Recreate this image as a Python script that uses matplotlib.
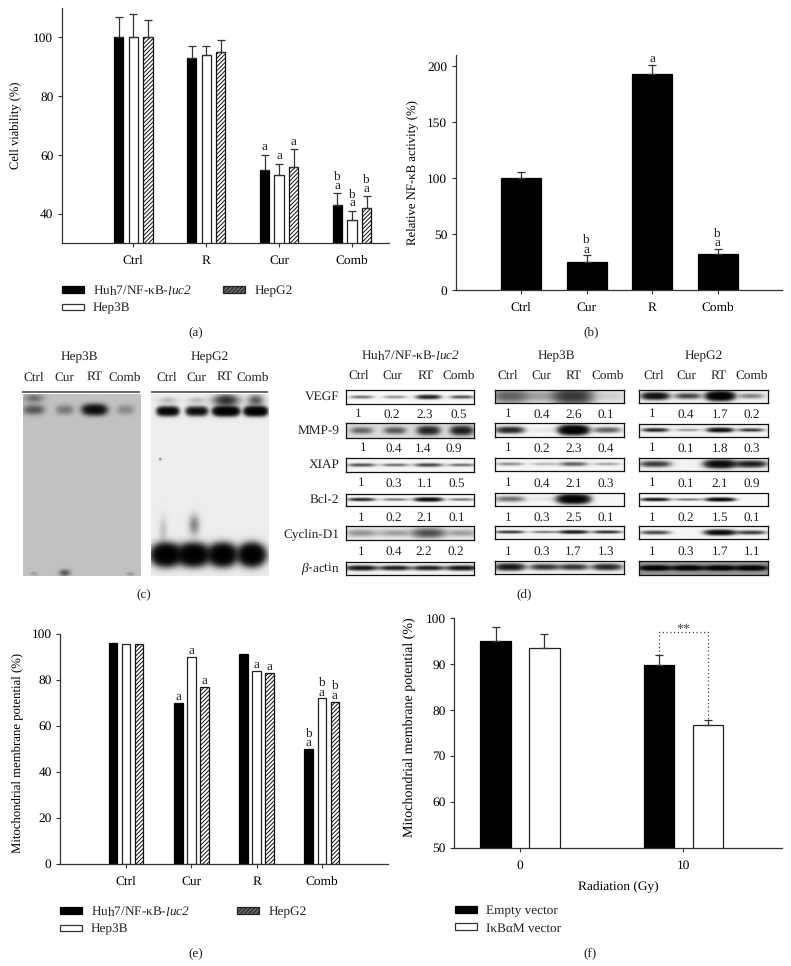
import numpy as np
import matplotlib
matplotlib.use('Agg')
import matplotlib.pyplot as plt
from matplotlib.patches import Patch
from matplotlib.transforms import Affine2D

W, H = 791, 966
plt.rcParams['font.family'] = ['Liberation Serif', 'DejaVu Serif']
plt.rcParams['mathtext.fontset'] = 'custom'
plt.rcParams['mathtext.rm'] = 'Liberation Serif'
plt.rcParams['mathtext.it'] = 'Liberation Serif:italic'
plt.rcParams['mathtext.cal'] = 'Liberation Serif:italic'
plt.rcParams['hatch.linewidth'] = 0.7
plt.rcParams['text.color'] = '#222222'
plt.rcParams['text.hinting'] = 'none'

# ---------- data ----------
groups_a = ['Ctrl', 'R', 'Cur', 'Comb']
huh7_a = [100, 93, 55, 43]
hep3b_a = [100, 94, 53, 38]
hepg2_a = [100, 95, 56, 42]
huh7_a_top = [107, 97, 60, 47]
hep3b_a_top = [108, 97, 57, 41]
hepg2_a_top = [106, 99, 62, 46]
huh7_a_sig = ['', '', 'a', 'b\na']
hep3b_a_sig = ['', '', 'a', 'b\na']
hepg2_a_sig = ['', '', 'a', 'b\na']

groups_b = ['Ctrl', 'Cur', 'R', 'Comb']
activity_b = [100, 25, 193, 32]
activity_b_top = [105, 31, 201, 37]
activity_b_sig = ['', 'b\na', 'a', 'b\na']

groups_e = ['Ctrl', 'Cur', 'R', 'Comb']
huh7_e = [96, 70, 91, 50]
hep3b_e = [95.5, 90, 84, 72]
hepg2_e = [95.5, 77, 83, 70.5]
huh7_e_sig = ['', 'a', '', 'b\na']
hep3b_e_sig = ['', 'a', 'a', 'b\na']
hepg2_e_sig = ['', 'a', 'a', 'b\na']

groups_f = ['0', '10']
empty_f = [95, 89.8]
ikb_f = [93.4, 76.8]
empty_f_top = [98.1, 91.9]
ikb_f_top = [96.5, 77.8]

lanes = ['Ctrl', 'Cur', 'RT', 'Comb']
proteins = ['VEGF', 'MMP-9', 'XIAP', 'Bcl-2', 'Cyclin-D1', r'$\mathit{\beta}$-actin']
ratio_huh7 = ['1 0.2 2.3 0.5', '1 0.4 1.4 0.9', '1 0.3 1.1 0.5', '1 0.2 2.1 0.1', '1 0.4 2.2 0.2']
ratio_hep3b = ['1 0.4 2.6 0.1', '1 0.2 2.3 0.4', '1 0.4 2.1 0.3', '1 0.3 2.5 0.1', '1 0.3 1.7 1.3']
ratio_hepg2 = ['1 0.4 1.7 0.2', '1 0.1 1.8 0.3', '1 0.1 2.1 0.9', '1 0.2 1.5 0.1', '1 0.3 1.7 1.1']

band_huh7 = [[.5, .35, 1.3, .7], [.5, .6, 1.2, 1.3], [.7, .5, .8, .5],
             [1.2, .5, 2.0, .5], [.3, .25, .7, .25], [1.5, 1.3, 1.3, 1.5]]
band_hep3b = [[.55, .25, .9, .08], [1.2, .05, 3.0, .6], [.35, .2, .6, .25],
              [.5, .05, 2.5, 0], [1.0, .5, 1.5, 1.1], [1.5, 1.0, 1.0, 1.2]]
band_hepg2 = [[1.8, .8, 3.0, .4], [1.2, .3, 1.8, .9], [.9, 0, 2.0, 1.3],
              [1.5, .5, 2.0, 0], [.8, 0, 2.0, .9], [2.5, 2.5, 2.5, 2.5]]
gel_hep3b_shift = [.5, .3, 1.8, .22]
gel_hepg2_shift = [2.2, 1.8, 3.0, 3.0]
gel_hepg2_free = [3.6, 3.6, 3.6, 3.6]

# ---------- helpers ----------
fig = plt.figure(figsize=(W / 100, H / 100), dpi=100, facecolor='white')
PX = Affine2D().scale(1, -1).translate(0, H)
INK = '#333333'


def px_axes(x0, ytop, x1, ybot):
    return fig.add_axes([x0 / W, 1 - ybot / H, (x1 - x0) / W, (ybot - ytop) / H])


def ptext(x, y, s, size=9.5, ha='center', va='center', **kw):
    fig.text(x, y, s, transform=PX, fontsize=size, ha=ha, va=va, **kw)


def style(ax, ylab, lab_xy, yticks, xpad=6, labsize=9):
    ax.spines[['top', 'right']].set_visible(False)
    ax.spines[['left', 'bottom']].set_color(INK)
    ax.spines[['left', 'bottom']].set_linewidth(0.9)
    ax.set_yticks(yticks)
    ax.tick_params(axis='y', length=3, width=0.8, color=INK, pad=3, labelsize=9.6)
    ax.tick_params(axis='x', length=2.6, width=0.8, color=INK, pad=xpad, labelsize=9.6)
    ax.set_ylabel(ylab, fontsize=labsize)
    ax.yaxis.set_label_coords(lab_xy[0], lab_xy[1], transform=PX)


def bars(ax, x, vals, w, kind, tops=None):
    st = {'k': dict(color='black', edgecolor='black'),
          'w': dict(color='white', edgecolor='#222222'),
          'h': dict(color='white', edgecolor='#111111', hatch='////////')}[kind]
    ax.bar(x, vals, w, linewidth=0.9, **st)
    if tops is not None:
        up = np.array(tops) - np.array(vals)
        ax.errorbar(x, vals, yerr=[np.zeros(len(up)), up], fmt='none', ecolor='#333333',
                    elinewidth=0.9, capsize=2.6, capthick=0.9)


def sig(ax, x, ys, labels, base, gap):
    for xi, yi, lab in zip(x, ys, labels):
        if lab:
            ax.annotate(lab, (xi, yi), xytext=(0, base * 0.72), textcoords='offset points',
                        ha='center', va='baseline', fontsize=9.5, linespacing=gap / 12.0)


def legend(ax, entries, x, y, colsp, ncol=2, size=9.5):
    hs = []
    for lab, kind in entries:
        st = {'k': dict(facecolor='black', edgecolor='black'),
              'w': dict(facecolor='white', edgecolor='#333333'),
              'h': dict(facecolor='#666666', edgecolor='#222222', hatch='////////')}[kind]
        hs.append(Patch(label=lab, linewidth=0.9, **st))
    ax.legend(handles=hs, ncol=ncol, loc='upper left', bbox_to_anchor=(x, y), bbox_transform=PX,
              frameon=False, fontsize=size, borderpad=0, borderaxespad=0, handlelength=1.67,
              handleheight=0.42, handletextpad=0.68, columnspacing=colsp, labelspacing=0.42)


def render(x0, y0, x1, y1, bg, bands, frame=True):
    ax = px_axes(x0, y0, x1, y1)
    xs = np.linspace(x0, x1, int((x1 - x0) * 2))
    ys = np.linspace(y0, y1, int((y1 - y0) * 2))
    X, Y = np.meshgrid(xs, ys)
    od = np.zeros_like(X)
    for cx, cy, sx, sy, a, p in bands:
        od += a * np.exp(-np.abs((X - cx) / sx) ** p - ((Y - cy) / sy) ** 2)
    ax.imshow(bg * np.exp(-1.6 * od), cmap='gray', vmin=0, vmax=1, aspect='auto',
              interpolation='bilinear', extent=(x0, x1, y1, y0))
    ax.set_xticks([])
    ax.set_yticks([])
    for s in ax.spines.values():
        s.set_visible(frame)
        s.set_linewidth(0.9)
        s.set_color('#111111')
    return ax


LUC = r'Huh7/NF-κB-$\mathcal{luc2}$'

# ---------- (a) ----------
ax = px_axes(61.7, 8, 389, 243)
t0, dt = 133.3, 72.9
ax.set_xlim((61.7 - t0) / dt, (389 - t0) / dt)
ax.set_ylim(30, 110)
xa = np.arange(4)
for off, v, tp, kind, s in [(-.2, huh7_a, huh7_a_top, 'k', huh7_a_sig),
                            (0, hep3b_a, hep3b_a_top, 'w', hep3b_a_sig),
                            (.2, hepg2_a, hepg2_a_top, 'h', hepg2_a_sig)]:
    bars(ax, xa + off, v, 0.128, kind, tp)
    sig(ax, xa + off, tp, s, 4.5, 7.6)
ax.set_xticks(xa, groups_a)
style(ax, 'Cell viability (%)', (21, 125.5), [40, 60, 80, 100])
legend(ax, [(LUC, 'k'), ('Hep3B', 'w'), ('HepG2', 'h')], 61.7, 284, 2.4)
ptext(196, 332.5, '(a)')

# ---------- (b) ----------
ax = px_axes(455.7, 55, 782, 290)
t0, dt = 521.3, 65.5
ax.set_xlim((455.7 - t0) / dt, (782 - t0) / dt)
ax.set_ylim(0, 209.8)
xb = np.arange(4)
bars(ax, xb, activity_b, 0.61, 'k', activity_b_top)
sig(ax, xb, activity_b_top, activity_b_sig, 2.6, 9)
ax.set_xticks(xb, groups_b)
style(ax, 'Relative NF-κB activity (%)', (418, 172.5), [0, 50, 100, 150, 200], labsize=9.2)
ptext(591, 332.5, '(b)')

# ---------- (c) ----------
render(23.3, 394, 141.3, 576, 0.76,
       [(x, 409.5, w, 4.6, a, 3) for x, w, a in zip([34, 65, 95, 126], [10, 8.5, 11, 8.5], gel_hep3b_shift)]
       + [(34, 398, 9, 4, .35, 2), (65, 573, 5, 3, .5, 2), (34, 574, 4, 2, .12, 2), (131, 574, 4, 2, .15, 2)],
       frame=False)
render(151, 394, 268.7, 576, 0.93,
       [(x, 411, w, 3.8, a, 4) for x, w, a in zip([167.7, 196.7, 226, 255.7], [10, 10, 12, 10.5], gel_hepg2_shift)]
       + [(226, 400, 11, 5, 1.0, 2), (255.7, 400, 7, 5, .6, 2), (167.7, 400, 9, 3, .15, 2), (196.7, 400, 8, 3, .15, 2)]
       + [(x, 555, w, 8.5, a, 2.2) for x, w, a in zip([165.7, 193.3, 222.7, 251.7], [11.5, 12.5, 11, 10.5], gel_hepg2_free)]
       + [(194, 525, 5, 9, .35, 2), (163, 530, 4, 12, .12, 2), (160, 459, 1, 1, .6, 2)],
       frame=False)
fig.add_artist(plt.Line2D([23.3, 139], [392, 392], transform=PX, color='#666666', lw=1.4))
fig.add_artist(plt.Line2D([152, 266.7], [392, 392], transform=PX, color='#666666', lw=1.4))
ptext(79.3, 357.3, 'Hep3B')
ptext(210, 357.3, 'HepG2')
for x, s in zip([33.3, 64, 94.7, 125], lanes):
    ptext(x, 377.3, s)
for x, s in zip([166.7, 196, 224.3, 253], lanes):
    ptext(x, 377.3, s)
ptext(143.3, 593.7, '(c)')

# ---------- (d) ----------
row_tops = [[390.3, 423.3, 458, 493.7, 526.3, 561.7],
            [390, 423.3, 457.7, 492.7, 525.7, 560.7],
            [390, 423.7, 458, 493.5, 526.3, 561]]
row_bots = [[403.7, 437.7, 471.7, 506, 540, 575.3],
            [403.3, 436.7, 471, 506, 539, 574],
            [403.3, 437.3, 471.3, 506.3, 539.3, 575]]
col_x = [(345.7, 474.3), (495.3, 623.7), (639, 767.7)]
lane_frac = [[.12, .38, .64, .90], [.115, .385, .61, .87], [.125, .38, .63, .87]]
half_w = [[.085, .08, .10, .095, .12, .11], [.14, .10, .10, .11, .10, .105],
          [.095, .09, .11, .10, .105, .11]]
half_h = [[1.8, 4.0, 1.6, 1.6, 4.6, 2.1], [8, 3.8, 1.8, 3.8, 1.4, 3.0], [3.6, 1.9, 3.4, 1.6, 2.3, 2.1]]
bgs = [[.97, .86, .96, .97, .93, .95], [.92, .97, .96, .97, .96, .96], [.95, .95, .95, .98, .96, .58]]
for c, strengths in enumerate([band_huh7, band_hep3b, band_hepg2]):
    x0, x1 = col_x[c]
    for r, st in enumerate(strengths):
        y0, y1 = row_tops[c][r], row_bots[c][r]
        bands = [(x0 + f * (x1 - x0), (y0 + y1) / 2, half_w[c][r] * (x1 - x0),
                  half_h[c][r] * (0.6 + 0.4 * a / max(st)), a, 3)
                 for f, a in zip(lane_frac[c], st)]
        render(x0, y0, x1, y1, bgs[c][r], bands)
ptext(410, 355.7, LUC)
ptext(556.7, 355.7, 'Hep3B')
ptext(703.3, 355.7, 'HepG2')
for xs_ in ([359, 392.3, 425.7, 459], [507.7, 541, 574, 607.3], [653.7, 686.7, 719, 752]):
    for x, s in zip(xs_, lanes):
        ptext(x, 376, s)
ratio_y = [414.3, 448.3, 483.3, 517.7, 552]
num_x = [[[357.7, 391.7, 424.3, 458.3], [362.7, 393.3, 423.3, 453.3], [361, 393.3, 425, 456.7],
          [361, 393.3, 425, 456.7], [361, 393.3, 423.3, 455.7]],
         [[508.3, 541.7, 573.3, 606]] * 5, [[651.7, 685.7, 720, 751.7]] * 5]
for c, table in enumerate([ratio_huh7, ratio_hep3b, ratio_hepg2]):
    for r, row in enumerate(table):
        for x, s in zip(num_x[c][r], row.split()):
            ptext(x, ratio_y[r], s)
for y, s in zip([396.7, 430.7, 465, 499.3, 533.7, 568.3], proteins):
    ptext(339.5, y, s, ha='right')
ptext(524, 593.7, '(d)')

# ---------- (e) ----------
ax = px_axes(60, 633.7, 387.7, 863.7)
t0, dt = 126, 65.3
ax.set_xlim((60 - t0) / dt, (387.7 - t0) / dt)
ax.set_ylim(0, 100)
xe = np.arange(4)
for off, v, kind, s in [(-.2, huh7_e, 'k', huh7_e_sig), (0, hep3b_e, 'w', hep3b_e_sig),
                        (.2, hepg2_e, 'h', hepg2_e_sig)]:
    bars(ax, xe + off, v, 0.133, kind)
    sig(ax, xe + off, v, s, 2.7, 9)
ax.set_xticks(xe, groups_e)
style(ax, 'Mitochondrial membrane potential (%)', (23, 752.5), [0, 20, 40, 60, 80, 100], labsize=9.2)
legend(ax, [(LUC, 'k'), ('Hep3B', 'w'), ('HepG2', 'h')], 60, 905, 3.58)
ptext(196, 952.7, '(e)')

# ---------- (f) ----------
ax = px_axes(454, 618, 781.7, 847.7)
t0, dt = 520, 163.3
ax.set_xlim((454 - t0) / dt, (781.7 - t0) / dt)
ax.set_ylim(50, 100)
xf = np.arange(2)
bars(ax, xf - .15, empty_f, 0.184, 'k', empty_f_top)
bars(ax, xf + .15, ikb_f, 0.184, 'w', ikb_f_top)
ax.set_xticks(xf, groups_f)
style(ax, 'Mitochondrial membrane potential (%)', (416, 727), [50, 60, 70, 80, 90, 100], labsize=10.1)
ax.plot([xf[1] - .15, xf[1] - .15, xf[1] + .15, xf[1] + .15],
        [empty_f_top[1], 97, 97, ikb_f_top[1]], color='#444444', lw=0.9, ls=(0, (1, 2)))
ax.text(xf[1], 97.4, '**', ha='center', va='center', fontsize=10, color='#444444')
ax.set_xlabel('Radiation (Gy)', fontsize=9.6)
ax.xaxis.set_label_coords(618, 880.5, transform=PX)
legend(ax, [('Empty vector', 'k'), ('IκBαM vector', 'w')], 455, 905, 1.0, ncol=1)
ptext(590, 952.7, '(f)')

fig.savefig('out.png', dpi=100, facecolor='white')
